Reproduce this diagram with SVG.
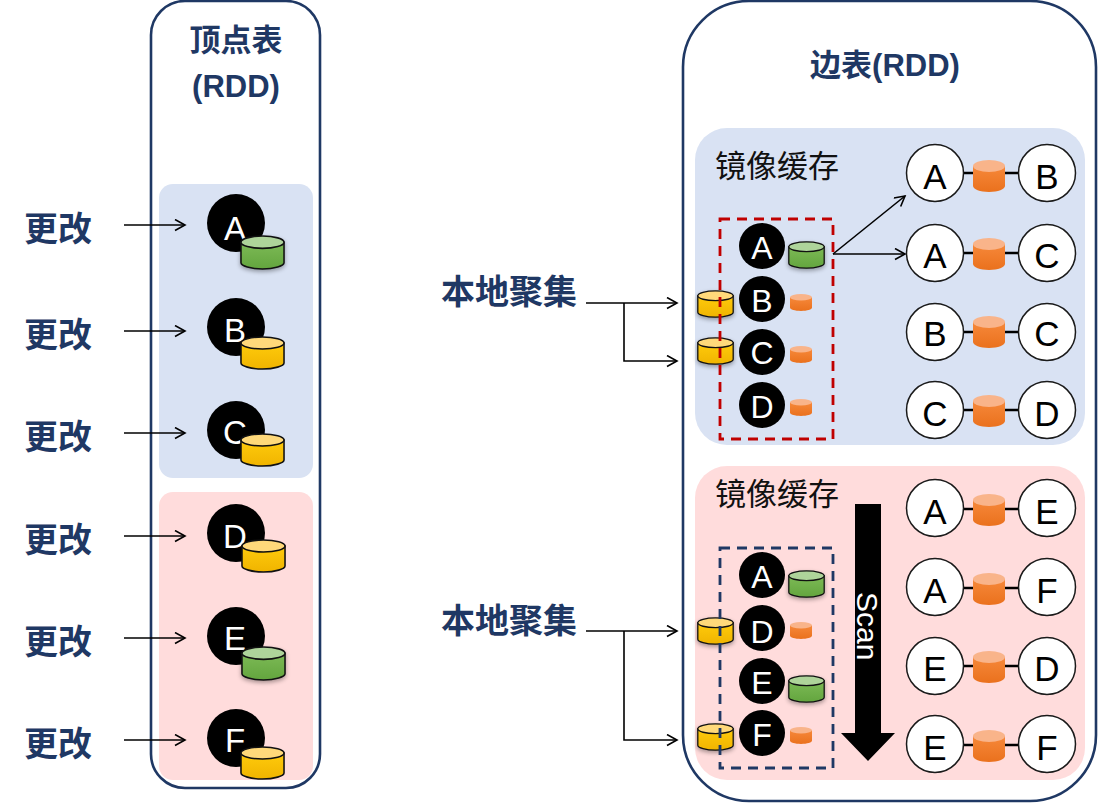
<svg xmlns="http://www.w3.org/2000/svg" width="1104" height="809" viewBox="0 0 1104 809">
<style>
text{font-family:"Liberation Sans","Noto Sans CJK SC",sans-serif}
.ttl{font-size:31px;font-weight:700;fill:#1f3864;text-anchor:middle}
.lbl{font-size:34px;font-weight:700;fill:#1f3864}
.cache{font-size:31px;fill:#111;font-family:"Noto Sans CJK SC",sans-serif}
.bl{fill:#000}
.wt{fill:#fff;font-size:33px;text-anchor:middle}
.wm{fill:#fff;font-size:32px;text-anchor:middle}
.wc{fill:#fff;stroke:#1a1a1a;stroke-width:1.5}
.bt{fill:#000;font-size:35px;text-anchor:middle}
.l{fill:none;stroke:#000;stroke-width:1.6}
.e{stroke:#000;stroke-width:2.4}
.sh{filter:drop-shadow(0 2px 2px rgba(0,0,0,.35))}
</style>
<defs>
<marker id="a" markerWidth="14" markerHeight="14" refX="11" refY="6" orient="auto" markerUnits="userSpaceOnUse"><path d="M1 .5L11 6L1 11.5" fill="none" stroke="#000" stroke-width="1.6"/></marker>
<linearGradient id="gg" x1="0" y1="0" x2="0" y2="1"><stop offset="0" stop-color="#7dba56"/><stop offset="1" stop-color="#63a53e"/></linearGradient>
<linearGradient id="gy" x1="0" y1="0" x2="0" y2="1"><stop offset="0" stop-color="#ffcb0c"/><stop offset="1" stop-color="#f0b400"/></linearGradient>
<linearGradient id="go" x1="0" y1="0" x2="0" y2="1"><stop offset="0" stop-color="#f6883a"/><stop offset="1" stop-color="#ea711d"/></linearGradient>
<symbol id="cg" viewBox="0 0 46 34" preserveAspectRatio="none" overflow="visible"><path d="M1 7V27C1 30 11 33 23 33S45 30 45 27V7Z" fill="url(#gg)" stroke="#111" stroke-width="1.6"/><ellipse cx="23" cy="7" rx="22" ry="6" fill="#aed49a" stroke="#111" stroke-width="1.6"/></symbol>
<symbol id="cy" viewBox="0 0 46 34" preserveAspectRatio="none" overflow="visible"><path d="M1 7V27C1 30 11 33 23 33S45 30 45 27V7Z" fill="url(#gy)" stroke="#111" stroke-width="1.6"/><ellipse cx="23" cy="7" rx="22" ry="6" fill="#ffd97a" stroke="#111" stroke-width="1.6"/></symbol>
<symbol id="co" viewBox="0 0 32 32" preserveAspectRatio="none" overflow="visible"><path d="M0 6V26C0 29 7 32 16 32S32 29 32 26V6Z" fill="url(#go)"/><ellipse cx="16" cy="6" rx="16" ry="6" fill="#f9b48a"/></symbol>
</defs>

<g id="vertex-table">
<rect x="151" y="1" width="169" height="787" rx="34" fill="#fff" stroke="#1f3864" stroke-width="2.6"/>
<rect x="159" y="184" width="154" height="294" rx="14" fill="#d9e2f3"/>
<rect x="159" y="492" width="154" height="288" rx="14" fill="#ffdcdc"/>
<text class="ttl" x="236" y="51">顶点表</text>
<text class="ttl" x="236" y="97">(RDD)</text>
</g>
<g id="edge-table">
<rect x="683" y="1" width="413" height="800" rx="66" fill="#fff" stroke="#1f3864" stroke-width="2.6"/>
<rect x="695" y="128" width="390" height="317" rx="32" fill="#d9e2f3"/>
<rect x="695" y="466" width="390" height="314" rx="32" fill="#ffdcdc"/>
<text class="ttl" x="885" y="76">边表(RDD)</text>
<text class="cache" x="715" y="177">镜像缓存</text>
<text class="cache" x="715" y="505">镜像缓存</text>
</g>

<g id="labels">
<text class="lbl" x="24" y="241">更改</text>
<text class="lbl" x="24" y="347">更改</text>
<text class="lbl" x="24" y="449">更改</text>
<text class="lbl" x="24" y="552">更改</text>
<text class="lbl" x="24" y="654">更改</text>
<text class="lbl" x="24" y="756">更改</text>
<text class="lbl" x="441" y="304">本地聚集</text>
<text class="lbl" x="441" y="633">本地聚集</text>
</g>

<g id="connectors">
<path class="l" marker-end="url(#a)" d="M124 225H185"/>
<path class="l" marker-end="url(#a)" d="M124 331H185"/>
<path class="l" marker-end="url(#a)" d="M124 433H185"/>
<path class="l" marker-end="url(#a)" d="M124 536H185"/>
<path class="l" marker-end="url(#a)" d="M124 638H185"/>
<path class="l" marker-end="url(#a)" d="M124 740H185"/>
<path class="l" marker-end="url(#a)" d="M586 303H677"/>
<path class="l" marker-end="url(#a)" d="M624 303V361H677"/>
<path class="l" marker-end="url(#a)" d="M586 631H677"/>
<path class="l" marker-end="url(#a)" d="M624 631V740H677"/>
<path class="l" marker-end="url(#a)" d="M833 254L905 196"/>
<path class="l" marker-end="url(#a)" d="M833 254H905"/>
<path class="e" d="M960 173H1022M960 253H1022M960 332H1022M960 410H1022M960 509H1022M960 588H1022M960 666H1022M960 745H1022"/>
</g>

<g id="v-A"><circle class="bl" cx="236" cy="223" r="29"/><text class="wt" x="235" y="240">A</text><use class="sh" href="#cg" x="240" y="235" width="45" height="35"/></g>
<g id="v-B"><circle class="bl" cx="236" cy="327" r="29"/><text class="wt" x="235" y="342">B</text><use href="#cy" x="240" y="336" width="45" height="34"/></g>
<g id="v-C"><circle class="bl" cx="236" cy="430" r="29"/><text class="wt" x="235" y="444">C</text><use href="#cy" x="240" y="433" width="45" height="34"/></g>
<g id="v-D"><circle class="bl" cx="236" cy="533" r="29"/><text class="wt" x="235" y="548">D</text><use href="#cy" x="241" y="539" width="45" height="34"/></g>
<g id="v-E"><circle class="bl" cx="236" cy="636" r="29"/><text class="wt" x="235" y="650">E</text><use class="sh" href="#cg" x="241" y="646" width="45" height="35"/></g>
<g id="v-F"><circle class="bl" cx="236" cy="738" r="29"/><text class="wt" x="235" y="752">F</text><use href="#cy" x="240" y="746" width="45" height="34"/></g>

<g id="cache-1">
<use class="sh" href="#cy" x="697" y="290" width="37" height="28"/><use class="sh" href="#cy" x="697" y="337" width="37" height="28"/>
<rect x="720" y="219" width="113" height="220" fill="none" stroke="#c00000" stroke-width="2.8" stroke-dasharray="10 7"/>
<circle class="bl" cx="762" cy="246" r="23"/><text class="wm" x="762" y="259">A</text><use class="sh" href="#cg" x="788" y="241" width="37" height="28"/>
<circle class="bl" cx="762" cy="299" r="23"/><text class="wm" x="762" y="312">B</text><use href="#co" x="790" y="294" width="22" height="17"/>
<circle class="bl" cx="762" cy="352" r="23"/><text class="wm" x="762" y="364">C</text><use href="#co" x="790" y="346" width="22" height="17"/>
<circle class="bl" cx="762" cy="405" r="23"/><text class="wm" x="762" y="418">D</text><use href="#co" x="790" y="399" width="22" height="17"/>
</g>
<g id="cache-2">
<use class="sh" href="#cy" x="697" y="617" width="37" height="28"/><use class="sh" href="#cy" x="697" y="723" width="37" height="28"/>
<rect x="720" y="548" width="113" height="220" fill="none" stroke="#1f3864" stroke-width="2.8" stroke-dasharray="10 7"/>
<circle class="bl" cx="762" cy="575" r="23"/><text class="wm" x="762" y="588">A</text><use class="sh" href="#cg" x="788" y="570" width="37" height="28"/>
<circle class="bl" cx="762" cy="628" r="23"/><text class="wm" x="762" y="643">D</text><use href="#co" x="790" y="622" width="22" height="17"/>
<circle class="bl" cx="762" cy="681" r="23"/><text class="wm" x="762" y="694">E</text><use class="sh" href="#cg" x="788" y="675" width="37" height="28"/>
<circle class="bl" cx="762" cy="733" r="23"/><text class="wm" x="762" y="746">F</text><use href="#co" x="790" y="727" width="22" height="17"/>
</g>

<g id="scan">
<path d="M855 504H881V733H895L868 761L841 733H855Z" fill="#000"/>
<text transform="translate(857 592) rotate(90)" fill="#fff" font-size="30">Scan</text>
</g>

<g id="e1"><circle class="wc" cx="935" cy="173" r="28.500"/><circle class="wc" cx="1047" cy="173" r="28.500"/><use href="#co" x="973" y="160" width="32" height="32"/><text class="bt" x="935" y="189">A</text><text class="bt" x="1047" y="189">B</text></g>
<g id="e2"><circle class="wc" cx="935" cy="253" r="28.500"/><circle class="wc" cx="1047" cy="253" r="28.500"/><use href="#co" x="973" y="238" width="32" height="32"/><text class="bt" x="935" y="268">A</text><text class="bt" x="1047" y="268">C</text></g>
<g id="e3"><circle class="wc" cx="935" cy="332" r="28.500"/><circle class="wc" cx="1047" cy="332" r="28.500"/><use href="#co" x="973" y="316" width="32" height="32"/><text class="bt" x="935" y="346">B</text><text class="bt" x="1047" y="346">C</text></g>
<g id="e4"><circle class="wc" cx="935" cy="410" r="28.500"/><circle class="wc" cx="1047" cy="410" r="28.500"/><use href="#co" x="973" y="395" width="32" height="32"/><text class="bt" x="935" y="426">C</text><text class="bt" x="1047" y="426">D</text></g>
<g id="e5"><circle class="wc" cx="935" cy="508" r="28.500"/><circle class="wc" cx="1047" cy="508" r="28.500"/><use href="#co" x="973" y="494" width="32" height="32"/><text class="bt" x="935" y="524">A</text><text class="bt" x="1047" y="524">E</text></g>
<g id="e6"><circle class="wc" cx="935" cy="587" r="28.500"/><circle class="wc" cx="1047" cy="587" r="28.500"/><use href="#co" x="973" y="573" width="32" height="32"/><text class="bt" x="935" y="603">A</text><text class="bt" x="1047" y="603">F</text></g>
<g id="e7"><circle class="wc" cx="935" cy="666" r="28.500"/><circle class="wc" cx="1047" cy="666" r="28.500"/><use href="#co" x="973" y="651" width="32" height="32"/><text class="bt" x="935" y="681">E</text><text class="bt" x="1047" y="681">D</text></g>
<g id="e8"><circle class="wc" cx="935" cy="744" r="28.500"/><circle class="wc" cx="1047" cy="744" r="28.500"/><use href="#co" x="973" y="730" width="32" height="32"/><text class="bt" x="935" y="760">E</text><text class="bt" x="1047" y="760">F</text></g>
</svg>
